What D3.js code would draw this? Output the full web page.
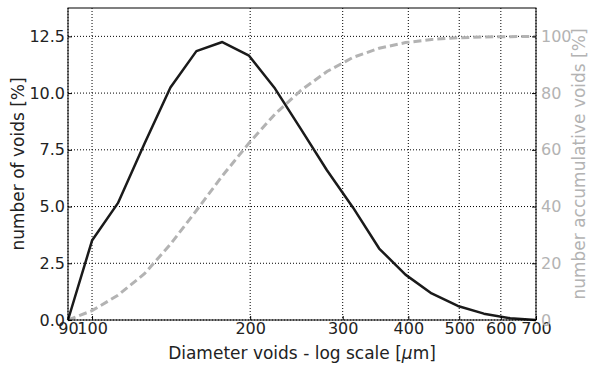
<!DOCTYPE html>
<html>
<head>
<meta charset="utf-8">
<script src="https://cdn.jsdelivr.net/npm/d3@7"></script>
<style>
  body { margin: 0; background: #fff; }
  text { font-family: "DejaVu Sans", sans-serif; }
</style>
</head>
<body>
<div id="chart"></div>
<script>
// diameters (um)
var diameters = [90, 100, 112, 126, 141, 158, 177, 199, 223, 250, 280, 314, 352, 395, 443, 497, 557, 625, 700];
// number of voids [%]
var voids = [0, 3.5, 5.15, 7.8, 10.25, 11.85, 12.25, 11.65, 10.2, 8.4, 6.6, 4.95, 3.15, 2.0, 1.17, 0.62, 0.28, 0.08, 0];
// cumulative voids [%]
var cumulative = [0, 3.3, 8.7, 16.4, 26.7, 38.6, 50.8, 62.4, 72.6, 81.0, 87.6, 92.6, 95.8, 97.8, 98.9, 99.5, 99.8, 99.9, 100];

var xTicks = [90, 100, 200, 300, 400, 500, 600, 700];
var yTicks = [0, 2.5, 5, 7.5, 10, 12.5];
var y2Ticks = [0, 20, 40, 60, 80, 100];

var W = 589, H = 365,
    margin = { top: 8, right: 53, bottom: 45, left: 68 },
    width = W - margin.left - margin.right,
    height = H - margin.top - margin.bottom,
    grey = '#b3b3b3';

var svg = d3.select('#chart').append('svg')
    .attr('width', W).attr('height', H);
var g = svg.append('g')
    .attr('transform', 'translate(' + margin.left + ',' + margin.top + ')');

var x = d3.scaleLog().domain([90, 700]).range([0, width]);
var y = d3.scaleLinear().domain([0, 13.75]).range([height, 0]);
var y2 = d3.scaleLinear().domain([0, 110]).range([height, 0]);

// grid
g.append('g').selectAll('line').data(xTicks).enter().append('line')
    .attr('x1', function (d) { return x(d); }).attr('x2', function (d) { return x(d); })
    .attr('y1', 0).attr('y2', height)
    .attr('stroke', '#000').attr('stroke-width', 1).attr('stroke-dasharray', '1,2');
g.append('g').selectAll('line').data(yTicks).enter().append('line')
    .attr('x1', 0).attr('x2', width)
    .attr('y1', function (d) { return y(d); }).attr('y2', function (d) { return y(d); })
    .attr('stroke', '#000').attr('stroke-width', 1).attr('stroke-dasharray', '1,2');

// lines
var pts = diameters.map(function (d, i) { return { d: d, v: voids[i], c: cumulative[i] }; });

g.append('path').datum(pts)
    .attr('fill', 'none').attr('stroke', grey).attr('stroke-width', 3)
    .attr('stroke-dasharray', '8,4')
    .attr('d', d3.line().x(function (p) { return x(p.d); }).y(function (p) { return y2(p.c); }));

g.append('path').datum(pts)
    .attr('fill', 'none').attr('stroke', '#1a1a1a').attr('stroke-width', 2.5)
    .attr('stroke-linejoin', 'round')
    .attr('d', d3.line().x(function (p) { return x(p.d); }).y(function (p) { return y(p.v); }));

// frame
g.append('rect').attr('width', width).attr('height', height)
    .attr('fill', 'none').attr('stroke', '#000').attr('stroke-width', 1);

// axes
var xAxis = g.append('g').attr('transform', 'translate(0,' + height + ')')
    .call(d3.axisBottom(x).tickValues(xTicks).tickFormat(d3.format('d')).tickSizeInner(-4).tickSizeOuter(0).tickPadding(3));
var yAxis = g.append('g')
    .call(d3.axisLeft(y).tickValues(yTicks).tickFormat(d3.format('.1f')).tickSizeInner(-4).tickSizeOuter(0).tickPadding(3));
var y2Axis = g.append('g').attr('transform', 'translate(' + width + ',0)')
    .call(d3.axisRight(y2).tickValues(y2Ticks).tickFormat(d3.format('d')).tickSizeInner(-4).tickSizeOuter(0).tickPadding(5));

[xAxis, yAxis, y2Axis].forEach(function (a) {
    a.select('.domain').remove();
    a.selectAll('text').style('font-size', '16px').style('font-family', '"DejaVu Sans", sans-serif');
});
xAxis.selectAll('text').attr('fill', '#222');
yAxis.selectAll('text').attr('fill', '#222');
yAxis.selectAll('line').attr('stroke', '#000');
xAxis.selectAll('line').attr('stroke', '#000');
y2Axis.selectAll('text').attr('fill', grey);
y2Axis.selectAll('line').attr('stroke', '#000');

// labels
var xl = svg.append('text')
    .attr('x', margin.left + width / 2).attr('y', 359)
    .attr('text-anchor', 'middle').style('font-size', '17px').attr('fill', '#222');
xl.append('tspan').text('Diameter voids - log scale [');
xl.append('tspan').style('font-style', 'italic').text('μ');
xl.append('tspan').text('m]');

svg.append('text')
    .attr('transform', 'translate(24,' + (margin.top + height / 2) + ') rotate(-90)')
    .attr('text-anchor', 'middle').style('font-size', '17px').attr('fill', '#222')
    .text('number of voids [%]');

svg.append('text')
    .attr('transform', 'translate(585,' + (margin.top + height / 2) + ') rotate(-90)')
    .attr('text-anchor', 'middle').style('font-size', '17px').attr('fill', grey)
    .text('number accumulative voids [%]');
</script>
</body>
</html>
